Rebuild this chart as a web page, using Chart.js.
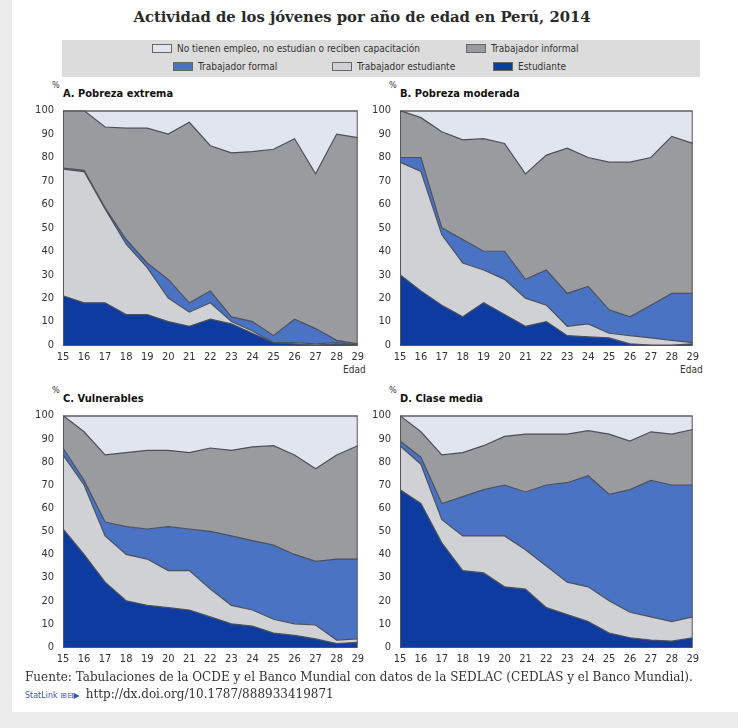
<!DOCTYPE html>
<html>
<head>
<meta charset="utf-8">
<script src="https://cdn.jsdelivr.net/npm/chart.js@4.4.1/dist/chart.umd.min.js"></script>
<style>
  body { margin: 0; background: #ececec; width: 738px; height: 728px; overflow: hidden; }
  #page { position: absolute; left: 12px; top: 0; width: 726px; height: 712px; background: #fff; }
  .abs { position: absolute; }
  #title { left: 0; width: 724px; top: 8px; text-align: center; font: bold 14.8px "DejaVu Serif", serif; color: #2a2a2a; }
  #legend { left: 62px; top: 40px; width: 638px; height: 37px; background: #dcdcdc; font: 10px "DejaVu Sans Condensed", "Liberation Sans Narrow", sans-serif; color: #333; }
  .item { position: absolute; white-space: nowrap; line-height: 12px; }
  .sw { display: inline-block; width: 20px; height: 9px; vertical-align: -1px; margin-right: 5px; border: 1px solid #666; box-sizing: border-box; }
  .ptitle { font: bold 11px "DejaVu Sans Condensed", "Liberation Sans Narrow", sans-serif; color: #111; line-height: 13px; }
  .pct { font: 9px "DejaVu Sans Condensed", sans-serif; color: #333; }
  .edad { font: 10px "DejaVu Sans Condensed", sans-serif; color: #333; }
  canvas { position: absolute; }
  #src { left: 25px; top: 670px; font: 12px "DejaVu Serif", serif; color: #333; white-space: nowrap; }
  #link { left: 25px; top: 687px; font: 12px "DejaVu Serif", serif; color: #333; white-space: nowrap; }
  #link span { font: 8px "DejaVu Sans", sans-serif; color: #3355aa; margin-right: 6px; }
</style>
</head>
<body>
<div id="page"></div>
<div id="title" class="abs">Actividad de los jóvenes por año de edad en Perú, 2014</div>
<div id="legend" class="abs">
  <div class="item" style="left:90px;top:3px"><span class="sw" style="background:#e0e5ef"></span>No tienen empleo, no estudian o reciben capacitación</div>
  <div class="item" style="left:404px;top:3px"><span class="sw" style="background:#9a9b9e"></span>Trabajador informal</div>
  <div class="item" style="left:111px;top:21px"><span class="sw" style="background:#4a73c4"></span>Trabajador formal</div>
  <div class="item" style="left:270px;top:21px"><span class="sw" style="background:#d0d1d4"></span>Trabajador estudiante</div>
  <div class="item" style="left:431px;top:21px"><span class="sw" style="background:#0d3b9f"></span>Estudiante</div>
</div>

<div class="abs pct" style="left:52px;top:80px">%</div>
<div class="abs ptitle" style="left:63px;top:87px">A. Pobreza extrema</div>
<div class="abs pct" style="left:389px;top:80px">%</div>
<div class="abs ptitle" style="left:400px;top:87px">B. Pobreza moderada</div>
<div class="abs pct" style="left:52px;top:385px">%</div>
<div class="abs ptitle" style="left:63px;top:392px">C. Vulnerables</div>
<div class="abs pct" style="left:389px;top:385px">%</div>
<div class="abs ptitle" style="left:400px;top:392px">D. Clase media</div>
<div class="abs edad" style="left:343px;top:364px">Edad</div>
<div class="abs edad" style="left:680px;top:364px">Edad</div>

<canvas id="cA"></canvas>
<canvas id="cB"></canvas>
<canvas id="cC"></canvas>
<canvas id="cD"></canvas>

<div id="src" class="abs">Fuente: Tabulaciones de la OCDE y el Banco Mundial con datos de la SEDLAC (CEDLAS y el Banco Mundial).</div>
<div id="link" class="abs"><span>StatLink ⊞⊟▶</span>http://dx.doi.org/10.1787/888933419871</div>

<script>
const ages = ['15', '16', '17', '18', '19', '20', '21', '22', '23', '24', '25', '26', '27', '28', '29'];
const seriesNames = ['Estudiante', 'Trabajador estudiante', 'Trabajador formal', 'Trabajador informal', 'No tienen empleo, no estudian o reciben capacitación'];

// A. Pobreza extrema
const estA = [21, 18, 18, 13, 13, 10, 8, 11, 9, 5, 1, 0.5, 0, 0.5, 0];
const teA = [54, 56, 40, 30, 20, 10, 6, 7, 1, 1, 0, 0.5, 0.5, 0.5, 0];
const formalA = [0.5, 0.5, 0.5, 2, 2, 8, 4, 5, 2, 4, 3, 10, 6.5, 1, 0.5];
const informalA = [24.5, 25.5, 34.5, 47.5, 57.5, 62, 77, 62, 70, 72.5, 79.5, 77, 66, 88, 88];
const niniA = [0, 0, 7, 7.5, 7.5, 10, 5, 15, 18, 17.5, 16.5, 12, 27, 10, 11.5];

// B. Pobreza moderada
const estB = [30, 23, 17, 12, 18, 13, 8, 10, 4, 3.5, 3, 0.5, 0, 0, 0.5];
const teB = [48, 51, 30, 23, 14, 15, 12, 7, 4, 5.5, 2, 3.5, 3, 2, 0.5];
const formalB = [2, 6, 3, 10, 8, 12, 8, 15, 14, 16, 10, 8, 14, 20, 21];
const informalB = [20, 17, 41, 42.5, 48, 46, 45, 49, 62, 55, 63, 66, 63, 67, 64];
const niniB = [0, 3, 9, 12.5, 12, 14, 27, 19, 16, 20, 22, 22, 20, 11, 14];

// C. Vulnerables
const estC = [51, 40, 28, 20, 18, 17, 16, 13, 10, 9, 6, 5, 3.5, 1.5, 2];
const teC = [32, 30, 20, 20, 20, 16, 17, 12, 8, 7, 6, 5, 6, 1.5, 1.5];
const formalC = [3, 2, 6, 12, 13, 19, 18, 25, 30, 30, 32, 30, 27.5, 35, 34.5];
const informalC = [14, 21, 29, 32, 34, 33, 33, 36, 37, 40.5, 43, 43, 40, 45, 49];
const niniC = [0, 7, 17, 16, 15, 15, 16, 14, 15, 13.5, 13, 17, 23, 17, 13];

// D. Clase media
const estD = [68, 62, 45, 33, 32, 26, 25, 17, 14, 11, 6, 4, 3, 2.5, 4];
const teD = [19, 17, 10, 15, 16, 22, 17, 18, 14, 15, 14, 11, 10, 8.5, 9];
const formalD = [2, 3, 7, 17, 20, 22, 25, 35, 43, 48, 46, 53, 59, 59, 57];
const informalD = [11, 11, 21, 19, 19, 21, 25, 22, 21, 19.5, 26, 21, 21, 22, 24];
const niniD = [0, 7, 17, 16, 13, 9, 8, 8, 8, 6.5, 8, 11, 7, 8, 6];

const colors = ['#0d3b9f', '#d0d1d4', '#4a73c4', '#9a9b9e', '#e0e5ef'];
const tickFont = { family: '"DejaVu Sans Condensed", "Liberation Sans Narrow", sans-serif', size: 11 };

// draws the box around the plot area
const framePlugin = {
  id: 'frame',
  afterDatasetsDraw(chart) {
    const { ctx, chartArea: a } = chart;
    ctx.save();
    ctx.strokeStyle = '#555';
    ctx.lineWidth = 1;
    ctx.strokeRect(a.left + 0.5, a.top + 0.5, a.right - a.left - 1, a.bottom - a.top);
    ctx.restore();
  }
};

function makePanel(id, box, yWidth, padRight, series) {
  const el = document.getElementById(id);
  el.width = box.width;
  el.height = box.height;
  el.style.left = box.left + 'px';
  el.style.top = box.top + 'px';
  el.style.width = box.width + 'px';
  el.style.height = box.height + 'px';

  const datasets = series.map((data, i) => ({
    label: seriesNames[i],
    data: data,
    backgroundColor: colors[i],
    borderColor: '#4b505c',
    borderWidth: 1.2,
    pointRadius: 0,
    tension: 0,
    fill: i === 0 ? 'origin' : '-1',
  }));

  return new Chart(el, {
    type: 'line',
    data: { labels: ages, datasets: datasets },
    options: {
      responsive: false,
      animation: false,
      layout: { padding: { top: 5, right: padRight, bottom: 0, left: 0 } },
      plugins: { legend: { display: false }, tooltip: { enabled: false } },
      scales: {
        x: {
          grid: { display: false, drawTicks: false },
          border: { display: false },
          ticks: { font: tickFont, color: '#333', padding: 6, maxRotation: 0, autoSkip: false },
          afterFit: (s) => { s.height = 35; },
        },
        y: {
          stacked: true,
          min: 0,
          max: 100,
          grid: { display: false, drawTicks: false },
          border: { display: false },
          ticks: { stepSize: 10, font: tickFont, color: '#333', padding: 9 },
          afterFit: (s) => { s.width = yWidth; },
        }
      }
    },
    plugins: [framePlugin]
  });
}

makePanel('cA', { left: 0, top: 95, width: 370, height: 285 }, 63, 8, [estA, teA, formalA, informalA, niniA]);
makePanel('cB', { left: 365, top: 95, width: 340, height: 285 }, 35, 6, [estB, teB, formalB, informalB, niniB]);
makePanel('cC', { left: 0, top: 400, width: 370, height: 282 }, 63, 8, [estC, teC, formalC, informalC, niniC]);
makePanel('cD', { left: 365, top: 400, width: 340, height: 282 }, 35, 6, [estD, teD, formalD, informalD, niniD]);
</script>
</body>
</html>
